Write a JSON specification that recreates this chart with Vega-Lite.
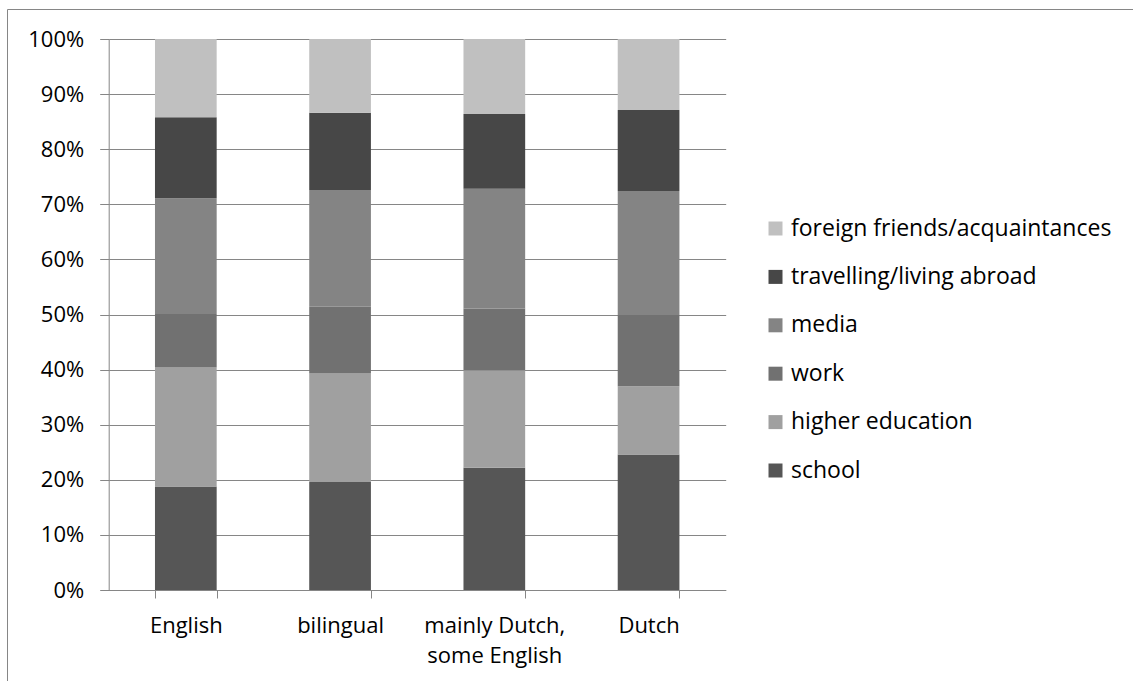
{
  "$schema": "https://vega.github.io/schema/vega-lite/v6.json",
  "width": 1128,
  "height": 674,
  "autosize": {"type": "none"},
  "padding": {"left": 7, "top": 9, "right": -2, "bottom": -2},
  "background": "white",
  "config": {
    "font": "Open Sans",
    "view": {"stroke": "#868686", "strokeWidth": 1, "fill": "white"},
    "axis": {"labelColor": "#000000", "labelFontSize": 22, "labelFont": "Open Sans"},
    "legend": {"labelColor": "#000000", "labelFontSize": 23, "labelFont": "Open Sans", "labelLimit": 500}
  },
  "data": {
    "values": [
      {"language": "English", "source": "school", "share": 18.8},
      {"language": "English", "source": "higher education", "share": 21.6},
      {"language": "English", "source": "work", "share": 9.7},
      {"language": "English", "source": "media", "share": 21.0},
      {"language": "English", "source": "travelling/living abroad", "share": 14.7},
      {"language": "English", "source": "foreign friends/acquaintances", "share": 14.2},
      {"language": "bilingual", "source": "school", "share": 19.6},
      {"language": "bilingual", "source": "higher education", "share": 19.7},
      {"language": "bilingual", "source": "work", "share": 12.1},
      {"language": "bilingual", "source": "media", "share": 21.2},
      {"language": "bilingual", "source": "travelling/living abroad", "share": 14.0},
      {"language": "bilingual", "source": "foreign friends/acquaintances", "share": 13.4},
      {"language": "mainly Dutch, some English", "source": "school", "share": 22.2},
      {"language": "mainly Dutch, some English", "source": "higher education", "share": 17.7},
      {"language": "mainly Dutch, some English", "source": "work", "share": 11.2},
      {"language": "mainly Dutch, some English", "source": "media", "share": 21.7},
      {"language": "mainly Dutch, some English", "source": "travelling/living abroad", "share": 13.6},
      {"language": "mainly Dutch, some English", "source": "foreign friends/acquaintances", "share": 13.6},
      {"language": "Dutch", "source": "school", "share": 24.6},
      {"language": "Dutch", "source": "higher education", "share": 12.4},
      {"language": "Dutch", "source": "work", "share": 12.9},
      {"language": "Dutch", "source": "media", "share": 22.5},
      {"language": "Dutch", "source": "travelling/living abroad", "share": 14.7},
      {"language": "Dutch", "source": "foreign friends/acquaintances", "share": 12.9}
    ]
  },
  "transform": [
    {
      "calculate": "indexof(['school', 'higher education', 'work', 'media', 'travelling/living abroad', 'foreign friends/acquaintances'], datum.source)",
      "as": "stack_rank"
    }
  ],
  "mark": {"type": "bar"},
  "encoding": {
    "x": {
      "field": "language",
      "type": "nominal",
      "sort": ["English", "bilingual", "mainly Dutch, some English", "Dutch"],
      "scale": {"range": [101.7, 718.7], "paddingInner": 0.6, "paddingOuter": 0.3},
      "axis": {
        "title": null,
        "labelAngle": 0,
        "tickBand": "extent",
        "tickSize": 8,
        "labelPadding": 17,
        "labelLineHeight": 30,
        "labelExpr": "datum.value == 'mainly Dutch, some English' ? ['mainly Dutch,', 'some English'] : datum.label",
        "domainColor": "#868686",
        "tickColor": "#868686",
        "offset": -93,
        "grid": false
      }
    },
    "y": {
      "field": "share",
      "type": "quantitative",
      "stack": "normalize",
      "scale": {"domain": [0, 1], "range": [581, 30]},
      "axis": {
        "title": null,
        "format": ".0%",
        "values": [0, 0.1, 0.2, 0.3, 0.4, 0.5, 0.6, 0.7, 0.8, 0.9, 1],
        "tickSize": 9,
        "labelPadding": 16,
        "offset": -101.7,
        "grid": true,
        "gridColor": "#868686",
        "domainColor": "#868686",
        "tickColor": "#868686"
      }
    },
    "color": {
      "field": "source",
      "type": "nominal",
      "scale": {
        "domain": ["foreign friends/acquaintances", "travelling/living abroad", "media", "work", "higher education", "school"],
        "range": ["#c0c0c0", "#474747", "#848484", "#717171", "#a0a0a0", "#565656"]
      },
      "legend": {
        "orient": "none",
        "legendX": 757,
        "legendY": 208,
        "title": null,
        "padding": 0,
        "symbolType": "square",
        "symbolSize": 196,
        "symbolStrokeWidth": 0,
        "symbolOpacity": 1,
        "labelOffset": 4,
        "labelLimit": 500,
        "rowPadding": 24.4
      }
    },
    "order": {"field": "stack_rank", "type": "quantitative"}
  }
}
